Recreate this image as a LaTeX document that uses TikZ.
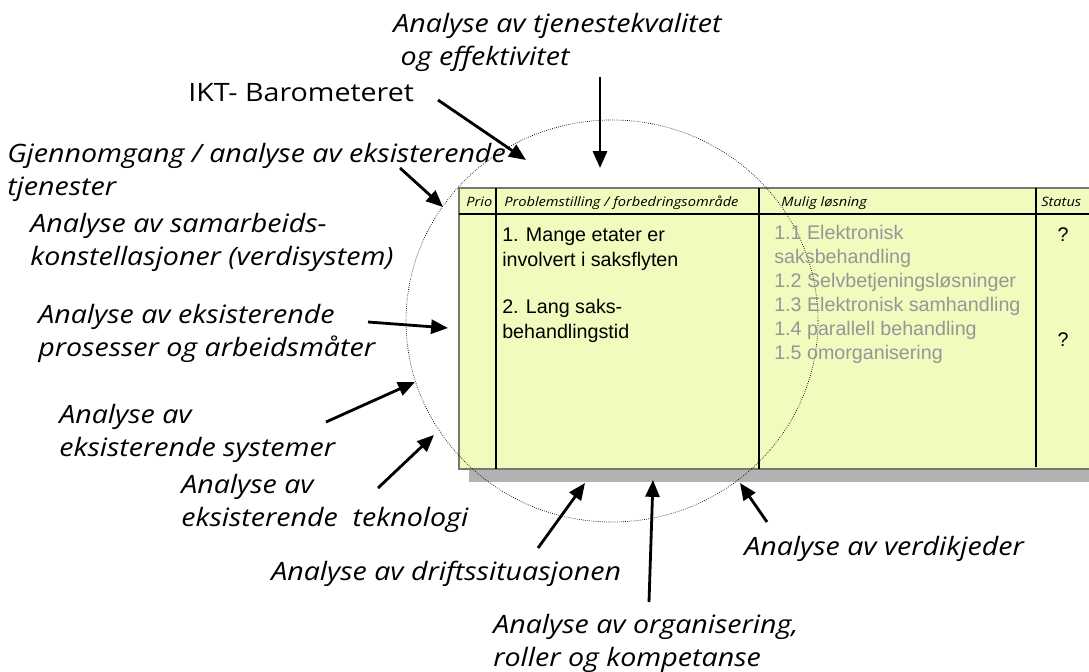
\documentclass[tikz,border=0pt]{standalone}
\usepackage{fontspec}
\setmainfont{Open Sans}
\newfontfamily\handfont[FakeStretch=1.13]{Open Sans}
\newfontfamily\arialfont{Liberation Sans}
\usepackage{tikz}
\usetikzlibrary{arrows.meta}
\definecolor{tableyellow}{RGB}{243,250,190}
\definecolor{shadowgray}{RGB}{178,178,178}
\definecolor{framegray}{RGB}{120,120,110}
\definecolor{textgray}{RGB}{150,150,150}
\def\labelfont{\handfont\fontsize{18}{22.8}\selectfont}
\def\cellfont{\arialfont\fontsize{14}{17.6}\selectfont}
\def\headfont{\handfont\fontsize{9.2}{10}\selectfont\itshape}

\begin{document}
\begin{tikzpicture}[x=0.25mm,y=-0.25mm,
  analysis/.style={anchor=base west, inner sep=0, align=left, font=\labelfont\itshape},
  cell/.style={anchor=base west, inner sep=0, align=left, font=\cellfont},
  head/.style={anchor=base west, inner sep=0, font=\headfont},
  pointer/.style={line width=2pt, -{Triangle[length=12pt,width=10pt]}}]
\useasboundingbox (0,0) rectangle (1089,672);
% table with shadow
\fill [shadowgray] (469,200) rectangle (1095,482);
\draw [framegray, line width=1.8pt, fill=tableyellow] (459,188) rectangle (1095,469);
\draw [line width=0.8pt] (459,214) -- (1089,214);
\draw [line width=0.8pt] (496,188) -- (496,469);
\draw [line width=0.8pt] (759,188) -- (759,469);
\draw [line width=0.8pt] (1036,188) -- (1036,467);
% dotted circle
\draw [densely dotted, line width=0.5pt, black] (612,321) ellipse [x radius=206, y radius=201];
% header
\node [head] (prio) at (466,206) {Prio};
\node [head] (problem) at (504,206) {Problemstilling / forbedringsområde};
\node [head] (losning) at (781,206) {Mulig løsning};
\node [head] (status) at (1041,206) {Status};
% cells (base = last line)
\node [cell] (prob1) at (502,266) {1. Mange etater er\\involvert i saksflyten};
\node [cell] (prob2) at (502,338) {2. Lang saks-\\behandlingstid};
\node [cell, textgray, font=\arialfont\fontsize{14}{17}\selectfont] (tiltak) at (774,359)
  {1.1 Elektronisk\\saksbehandling\\1.2 Selvbetjeningsløsninger\\1.3 Elektronisk samhandling\\1.4 parallell behandling\\1.5 omorganisering};
\node [cell, anchor=base] (status1) at (1063,241) {?};
\node [cell, anchor=base] (status2) at (1063,346) {?};
% analysis labels (base = last line)
\node [analysis] (kvalitet) at (393,65) {Analyse av tjenestekvalitet\\\ og effektivitet};
\node [analysis, font=\labelfont] (ikt) at (188,101) {IKT- Barometeret};
\node [analysis] (tjenester) at (7,195) {Gjennomgang / analyse av eksisterende\\tjenester};
\node [analysis] (samarbeid) at (30,265) {Analyse av samarbeids-\\konstellasjoner (verdisystem)};
\node [analysis] (prosesser) at (38,356) {Analyse av eksisterende\\prosesser og arbeidsmåter};
\node [analysis] (systemer) at (59,456) {Analyse av\\eksisterende systemer};
\node [analysis] (teknologi) at (181,526) {Analyse av\\eksisterende\ \ teknologi};
\node [analysis] (drift) at (271,580) {Analyse av driftssituasjonen};
\node [analysis] (organisering) at (493,666) {Analyse av organisering,\\roller og kompetanse};
\node [analysis] (verdikjeder) at (744,555) {Analyse av verdikjeder};
% arrows
\coordinate (kvalitet-a) at (600,77);   \coordinate (kvalitet-b) at (600,168);
\coordinate (ikt-a) at (438,100);       \coordinate (ikt-b) at (526,160);
\coordinate (tjenester-a) at (400,168); \coordinate (tjenester-b) at (443,207);
\coordinate (prosesser-a) at (368,322); \coordinate (prosesser-b) at (448,328);
\coordinate (systemer-a) at (326,422);  \coordinate (systemer-b) at (415,382);
\coordinate (teknologi-a) at (378,488); \coordinate (teknologi-b) at (434,435);
\coordinate (drift-a) at (538,548);     \coordinate (drift-b) at (585,483);
\coordinate (organisering-a) at (649,602); \coordinate (organisering-b) at (653,480);
\coordinate (verdikjeder-a) at (767,522);  \coordinate (verdikjeder-b) at (740,483);
\foreach \n in {kvalitet,ikt,tjenester,prosesser,systemer,teknologi,drift,organisering,verdikjeder}
  \draw [pointer] (\n-a) -- (\n-b);
\end{tikzpicture}
\end{document}
